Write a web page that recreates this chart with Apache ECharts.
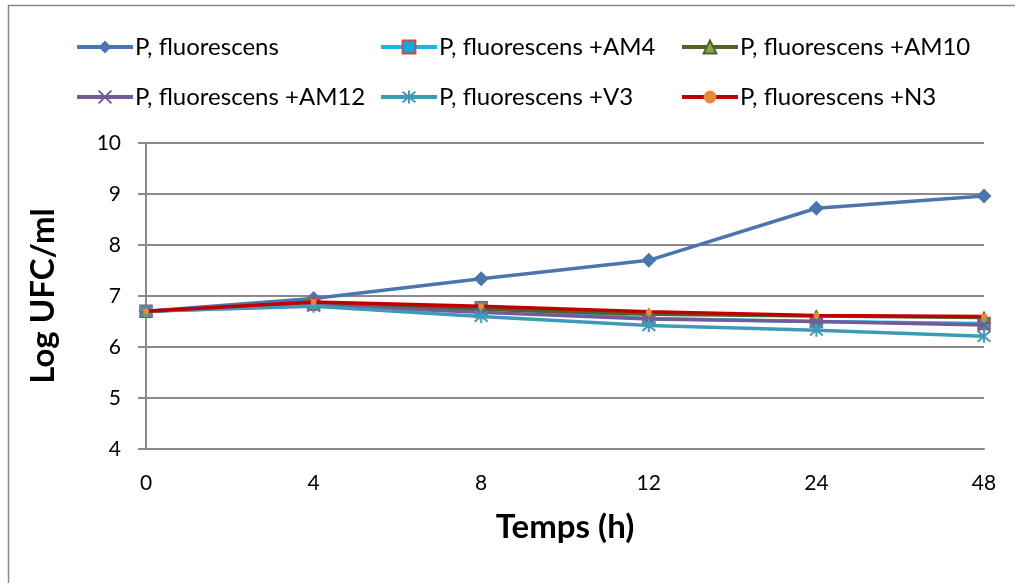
<!DOCTYPE html>
<html>
<head>
<meta charset="utf-8">
<script src="https://cdn.jsdelivr.net/npm/echarts@6/dist/echarts.min.js"></script>
<style>html,body{margin:0;padding:0;background:#fff}#c{width:1015px;height:583px}</style>
</head>
<body>
<div id="c"></div>
<script>
var categories = ['0', '4', '8', '12', '24', '48'];
var seriesNames = ['P, fluorescens', 'P, fluorescens +AM4', 'P, fluorescens +AM10', 'P, fluorescens +AM12', 'P, fluorescens +V3', 'P, fluorescens +N3'];
var pf     = [6.70, 6.95, 7.34, 7.70, 8.72, 8.96];
var pfAM4  = [6.70, 6.84, 6.77, 6.56, 6.50, 6.46];
var pfAM10 = [6.70, 6.85, 6.74, 6.64, 6.61, 6.58];
var pfAM12 = [6.70, 6.82, 6.68, 6.55, 6.50, 6.43];
var pfV3   = [6.70, 6.80, 6.60, 6.42, 6.33, 6.21];
var pfN3   = [6.70, 6.88, 6.80, 6.69, 6.62, 6.60];
var yTicks = [4, 5, 6, 7, 8, 9, 10];

var FONT = 'Lato';
var chart = echarts.init(document.getElementById('c'));

var styles = [
  {color: '#4a76ad', symbol: 'diamond', size: 15, fill: '#4a76ad', border: '#4a76ad', bw: 0},
  {color: '#1db3ee', symbol: 'rect', size: 12, fill: '#1aa4e0', border: '#c0504d', bw: 1.5},
  {color: '#4f6228', symbol: 'triangle', size: 12, fill: '#8aa64a', border: '#4f6228', bw: 1},
  {color: '#735b99', symbol: 'path://M0,0 L10,10 M10,0 L0,10', size: 12, fill: 'none', border: '#735b99', bw: 2},
  {color: '#3e9bb7', symbol: 'path://M0,0 L10,10 M10,0 L0,10 M5,-1 L5,11', size: 13, fill: 'none', border: '#3e9bb7', bw: 2},
  {color: '#c00000', symbol: 'circle', size: 6, fill: '#e8893a', border: '#e8893a', bw: 0}
];
var datas = [pf, pfAM4, pfAM10, pfAM12, pfV3, pfN3];

var series = datas.map(function (d, i) {
  var s = styles[i];
  return {
    name: seriesNames[i],
    type: 'line',
    data: d,
    symbol: s.symbol,
    symbolSize: s.size,
    showAllSymbol: true,
    lineStyle: {color: s.color, width: 3.5},
    itemStyle: {color: s.fill === 'none' ? 'rgba(0,0,0,0)' : s.fill, borderColor: s.border, borderWidth: s.bw},
    emphasis: {disabled: true},
    animation: false,
    z: 2 + i
  };
});

var legendPos = [
  {left: 70, top: 30}, {left: 374, top: 30}, {left: 675, top: 30},
  {left: 70, top: 80}, {left: 374, top: 80}, {left: 675, top: 80}
];
var legends = seriesNames.map(function (n, i) {
  return {
    data: [n],
    left: legendPos[i].left,
    top: legendPos[i].top,
    itemWidth: 56,
    itemHeight: 16,
    itemGap: 4,
    selectedMode: false,
    lineStyle: {width: 4},
    textStyle: {fontFamily: FONT, fontSize: 24, color: '#000', padding: [0, 0, 0, -3]}
  };
});

chart.setOption({
  backgroundColor: '#fff',
  animation: false,
  graphic: [{type: 'rect', shape: {x: 8.5, y: 5.5, width: 1100, height: 700}, style: {fill: 'none', stroke: '#8a8a8a', lineWidth: 1.5}, silent: true}],
  legend: legends,
  grid: {left: 146, right: 31, top: 143, bottom: 134},
  xAxis: {
    type: 'category',
    data: categories,
    boundaryGap: false,
    name: 'Temps (h)',
    nameLocation: 'middle',
    nameGap: 62,
    nameTextStyle: {fontFamily: FONT, fontSize: 33, fontWeight: 'bold', color: '#000'},
    axisLine: {show: true, lineStyle: {color: '#8a8a8a', width: 2}},
    axisTick: {show: false},
    axisLabel: {fontFamily: FONT, fontSize: 21, color: '#000', margin: 24},
    splitLine: {show: false}
  },
  yAxis: {
    type: 'value',
    min: yTicks[0],
    max: yTicks[yTicks.length - 1],
    interval: 1,
    name: 'Log UFC/ml',
    nameLocation: 'middle',
    nameGap: 86,
    nameRotate: 90,
    nameTextStyle: {fontFamily: FONT, fontSize: 33, fontWeight: 'bold', color: '#000'},
    axisLine: {show: true, lineStyle: {color: '#8a8a8a', width: 2}},
    axisTick: {show: true, inside: false, length: 8, lineStyle: {color: '#8a8a8a', width: 2}},
    axisLabel: {fontFamily: FONT, fontSize: 21, color: '#000', margin: 25},
    splitLine: {show: true, lineStyle: {color: '#8a8a8a', width: 2}}
  },
  series: series
});
</script>
</body>
</html>
